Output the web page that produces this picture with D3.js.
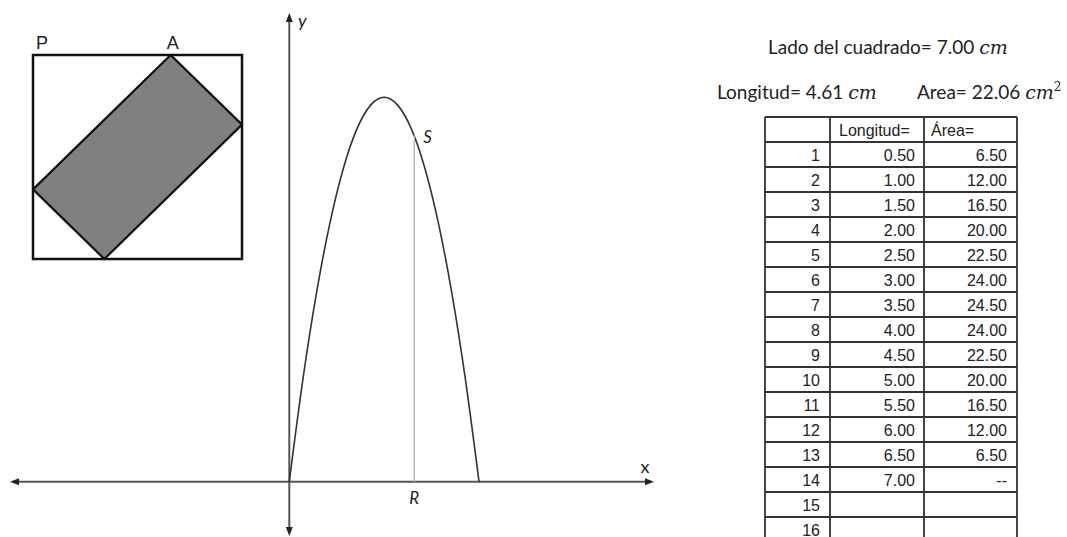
<!DOCTYPE html>
<html>
<head>
<meta charset="utf-8">
<script src="https://cdn.jsdelivr.net/npm/d3@7/dist/d3.min.js"></script>
<style>
  html, body { margin: 0; padding: 0; background: #fff; }
  svg { display: block; }
</style>
</head>
<body>
<svg id="chart" width="1067" height="537"></svg>
<script>
// Side of the square and the current state of the slider
const sideLength = 7.00;
const currentLength = 4.61;
const currentArea = 22.06;

// Table of sampled lengths and rectangle areas
const rowNumbers = [1, 2, 3, 4, 5, 6, 7, 8, 9, 10, 11, 12, 13, 14, 15, 16];
const lengths = [0.50, 1.00, 1.50, 2.00, 2.50, 3.00, 3.50, 4.00, 4.50, 5.00, 5.50, 6.00, 6.50, 7.00, null, null];
const areas = [6.50, 12.00, 16.50, 20.00, 22.50, 24.00, 24.50, 24.00, 22.50, 20.00, 16.50, 12.00, 6.50, null, null, null];
const tableHeaders = ["", "Longitud=", "Área="];

const svg = d3.select("#chart");
const fmt = d3.format(".2f");

// ---------- Square with the inscribed rectangle ----------
const sqX = d3.scaleLinear().domain([0, sideLength]).range([33, 242]);
const sqY = d3.scaleLinear().domain([0, sideLength]).range([55, 259]);

svg.append("rect")
  .attr("x", sqX(0)).attr("y", sqY(0))
  .attr("width", sqX(sideLength) - sqX(0))
  .attr("height", sqY(sideLength) - sqY(0))
  .attr("fill", "none").attr("stroke", "#111").attr("stroke-width", 2.5);

const s = currentLength;
const rectCorners = [[s, 0], [sideLength, sideLength - s], [sideLength - s, sideLength], [0, s]];
svg.append("path")
  .attr("d", d3.line().x(d => sqX(d[0])).y(d => sqY(d[1]))(rectCorners) + "Z")
  .attr("fill", "#808080").attr("stroke", "#111").attr("stroke-width", 2.2)
  .attr("stroke-linejoin", "round");

svg.append("text").text("P")
  .attr("x", sqX(0) + 9).attr("y", 49).attr("text-anchor", "middle")
  .attr("font-family", "Liberation Sans, Arial, sans-serif").attr("font-size", 18).attr("fill", "#222");
svg.append("text").text("A")
  .attr("x", sqX(s) + 2).attr("y", 49).attr("text-anchor", "middle")
  .attr("font-family", "Liberation Sans, Arial, sans-serif").attr("font-size", 18).attr("fill", "#222");

// ---------- Graph of area against length ----------
const x = d3.scaleLinear().domain([0, sideLength]).range([289.3, 479]);
const y = d3.scaleLinear().domain([0, d3.max(areas)]).range([481.7, 97.3]);

const axisColor = "#555";
const x0 = x(0), y0 = y(0);

// x axis with arrowheads at both ends
svg.append("line").attr("x1", 14).attr("x2", 648).attr("y1", y0).attr("y2", y0)
  .attr("stroke", axisColor).attr("stroke-width", 2);
svg.append("path").attr("d", `M10,${y0} L19,${y0 - 3.5} L19,${y0 + 3.5} Z`).attr("fill", "#222");
svg.append("path").attr("d", `M654,${y0} L645,${y0 - 3.5} L645,${y0 + 3.5} Z`).attr("fill", "#222");

// y axis with arrowheads at both ends
svg.append("line").attr("x1", x0).attr("x2", x0).attr("y1", 18).attr("y2", 531)
  .attr("stroke", axisColor).attr("stroke-width", 2);
svg.append("path").attr("d", `M${x0},13 L${x0 - 3.5},22 L${x0 + 3.5},22 Z`).attr("fill", "#222");
svg.append("path").attr("d", `M${x0},536 L${x0 - 3.5},527 L${x0 + 3.5},527 Z`).attr("fill", "#222");

svg.append("text").text("x")
  .attr("x", 645).attr("y", 473).attr("text-anchor", "middle")
  .attr("font-family", "Lato, sans-serif").attr("font-size", 18).attr("fill", "#222");
svg.append("text").text("y")
  .attr("x", 298).attr("y", 27)
  .attr("font-family", "Lato, sans-serif").attr("font-style", "italic").attr("font-size", 18).attr("fill", "#222");

// Curve through the sampled points, closed at both ends of the side
const curvePoints = [[0, 0]]
  .concat(lengths.map((l, i) => [l, areas[i]]).filter(d => d[0] != null && d[1] != null))
  .concat([[sideLength, 0]]);

svg.append("path")
  .attr("d", d3.line().x(d => x(d[0])).y(d => y(d[1])).curve(d3.curveCardinal.tension(0))(curvePoints))
  .attr("fill", "none").attr("stroke", "#333").attr("stroke-width", 1.6);

// Segment RS for the current length
svg.append("line")
  .attr("x1", x(currentLength)).attr("x2", x(currentLength))
  .attr("y1", y(0)).attr("y2", y(currentArea))
  .attr("stroke", "#bdbdbd").attr("stroke-width", 1.5);

svg.append("text").text("R")
  .attr("x", x(currentLength)).attr("y", 504).attr("text-anchor", "middle")
  .attr("font-family", "Lato, sans-serif").attr("font-style", "italic").attr("font-size", 17).attr("fill", "#222");
svg.append("text").text("S")
  .attr("x", x(currentLength) + 9).attr("y", y(currentArea) + 7)
  .attr("font-family", "Lato, sans-serif").attr("font-style", "italic").attr("font-size", 17).attr("fill", "#222");

// ---------- Readouts ----------
const readFont = "Lato, 'Open Sans', sans-serif";
const mathFont = "'DejaVu Serif', 'Liberation Serif', serif";
const readSize = 19;

const t1 = svg.append("text").attr("x", 768).attr("y", 54)
  .attr("font-family", readFont).attr("font-size", readSize).attr("fill", "#222");
t1.append("tspan").text(`Lado del cuadrado= ${fmt(sideLength)} `);
t1.append("tspan").text("cm").attr("font-family", mathFont).attr("font-style", "italic");

const t2 = svg.append("text").attr("x", 717).attr("y", 99)
  .attr("font-family", readFont).attr("font-size", readSize).attr("fill", "#222");
t2.append("tspan").text(`Longitud= ${fmt(currentLength)} `);
t2.append("tspan").text("cm").attr("font-family", mathFont).attr("font-style", "italic");

const t3 = svg.append("text").attr("x", 917).attr("y", 99)
  .attr("font-family", readFont).attr("font-size", readSize).attr("fill", "#222");
t3.append("tspan").text(`Area= ${fmt(currentArea)} `);
t3.append("tspan").text("cm").attr("font-family", mathFont).attr("font-style", "italic");
t3.append("tspan").text("2").attr("font-family", mathFont).attr("font-size", 12).attr("dy", -8);

// ---------- Table ----------
const colEdges = [765, 830, 924, 1017];
const rowTop = 117, rowH = 25;
const nRows = rowNumbers.length + 1;
const tableFont = "'Liberation Sans', Arial, sans-serif";
const tableSize = 16;
const g = svg.append("g");

// horizontal rules
d3.range(nRows + 1).forEach(i => {
  g.append("line").attr("x1", colEdges[0]).attr("x2", colEdges[3])
    .attr("y1", rowTop + i * rowH).attr("y2", rowTop + i * rowH)
    .attr("stroke", "#333").attr("stroke-width", 1.8);
});
// vertical rules
colEdges.forEach(cx => {
  g.append("line").attr("x1", cx).attr("x2", cx)
    .attr("y1", rowTop).attr("y2", rowTop + nRows * rowH)
    .attr("stroke", "#333").attr("stroke-width", 1.8);
});

// header
g.append("text").text(tableHeaders[1]).attr("x", colEdges[1] + 9).attr("y", rowTop + rowH / 2 + 6)
  .attr("font-family", tableFont).attr("font-size", tableSize).attr("fill", "#222");
g.append("text").text(tableHeaders[2]).attr("x", colEdges[2] + 7).attr("y", rowTop + rowH / 2 + 6)
  .attr("font-family", tableFont).attr("font-size", tableSize).attr("fill", "#222");

rowNumbers.forEach((n, i) => {
  const cy = rowTop + (i + 1) * rowH + rowH / 2 + 6;
  g.append("text").text(n).attr("x", colEdges[1] - 10).attr("y", cy).attr("text-anchor", "end")
    .attr("font-family", tableFont).attr("font-size", tableSize).attr("fill", "#222");
  if (lengths[i] != null) {
    g.append("text").text(fmt(lengths[i])).attr("x", colEdges[2] - 9).attr("y", cy).attr("text-anchor", "end")
      .attr("font-family", tableFont).attr("font-size", tableSize).attr("fill", "#222");
    g.append("text").text(areas[i] != null ? fmt(areas[i]) : "--").attr("x", colEdges[3] - 10).attr("y", cy).attr("text-anchor", "end")
      .attr("font-family", tableFont).attr("font-size", tableSize).attr("fill", "#222");
  }
});
</script>
</body>
</html>
